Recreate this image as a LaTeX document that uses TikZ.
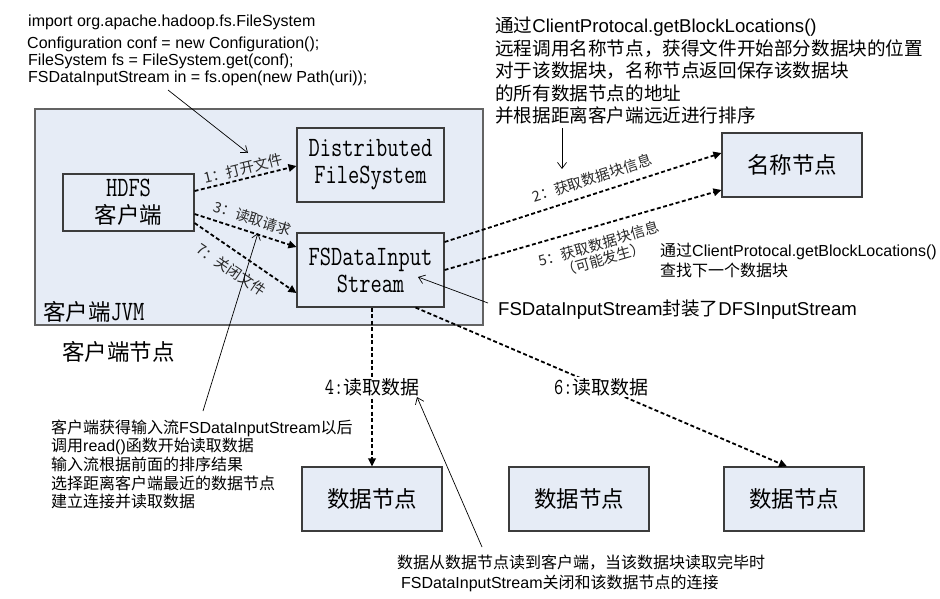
\documentclass[tikz,border=0pt]{standalone}
\usepackage{fontspec}
\usepackage{graphicx}
\setmainfont{Liberation Sans}
\newfontfamily\cjk{Noto Sans CJK SC}
\usetikzlibrary{arrows.meta,calc}
\definecolor{boxfill}{RGB}{230,236,246}
\definecolor{boxline}{RGB}{60,60,60}
\definecolor{lbltext}{RGB}{40,40,40}
\newcommand{\zh}[1]{{\cjk #1}}
\newcommand{\mtx}[2]{\scalebox{0.78}[1]{\fontsize{#1}{#1}\ttfamily #2}}
\begin{document}
\begin{tikzpicture}[x=1pt,y=-1pt,
  box/.style={draw=boxline, line width=1.1pt, fill=boxfill, inner sep=0pt, align=center,
    font=\fontsize{22.5}{27}\selectfont},
  flow/.style={line width=1.8pt, dash pattern=on 4pt off 2.5pt, -{Triangle[length=8pt,width=7.5pt]}},
  note/.style={line width=0.7pt, -{Straight Barb[length=6pt,width=9pt]}},
  lbl/.style={font=\fontsize{14.5}{16}\selectfont\cjk, text=lbltext, inner sep=1pt},
  bigl/.style={font=\fontsize{19}{22}\selectfont, fill=white, inner sep=1pt},
  txt/.style={anchor=base west, inner sep=0pt},
  codef/.style={txt, font=\fontsize{16}{17}\selectfont},
  zhf/.style={txt, font=\fontsize{18.6}{22}\selectfont},
  smf/.style={txt, font=\fontsize{16}{18}\selectfont},
  ttl/.style={txt, font=\fontsize{22.5}{27}\selectfont}]
\useasboundingbox (0,0) rectangle (940,598);
\fill[white] (0,0) rectangle (940,598);

% client JVM frame
\node[box, draw=boxline!80, minimum width=448pt, minimum height=216pt] (jvm) at (259,217) {};
\node[ttl] (jvmlbl) at (43,320) {\zh{客户端}\mtx{28}{JVM}};
\node[ttl] (clientnode) at (62,360) {\zh{客户端节点}};

% boxes
\node[box, minimum width=131pt, minimum height=57pt] (client) at (128.5,202.5) {\mtx{28}{HDFS}\\\zh{客户端}};
\node[box, minimum width=147pt, minimum height=74pt] (dfs) at (370.5,165) {\mtx{28}{Distributed}\\\mtx{28}{FileSystem}};
\node[box, minimum width=147pt, minimum height=74pt] (fsdis) at (370.5,270) {\mtx{28}{FSDataInput}\\\mtx{28}{Stream}};
\node[box, minimum width=140pt, minimum height=64pt] (nn) at (792,165) {\zh{名称节点}};
\node[box, minimum width=140pt, minimum height=64pt] (dn1) at (372,499) {\zh{数据节点}};
\node[box, minimum width=140pt, minimum height=64pt] (dn2) at (579,499) {\zh{数据节点}};
\node[box, minimum width=140pt, minimum height=64pt] (dn3) at (794,499) {\zh{数据节点}};

% flows
\draw[flow] ([yshift=11.5pt]client.east) -- node[lbl, sloped, above=1.5pt, pos=0.5] (l1) {1：打开文件} ([yshift=-1pt]dfs.west);
\draw[flow] ([yshift=-11.5pt]client.east) -- node[lbl, sloped, above=5pt, pos=0.53] (l3) {3：读取请求} ([yshift=23pt]fsdis.west);
\draw[flow] ([yshift=-20.5pt]client.east) -- node[lbl, sloped, below=9pt, pos=0.46] (l7) {7：关闭文件} ([yshift=-23pt]fsdis.west);
\draw[flow] ([yshift=28pt]fsdis.east) -- node[lbl, sloped, above=7pt, pos=0.55] (l2) {2：获取数据块信息} ([yshift=12pt]nn.west);
\draw[flow] (fsdis.east) -- node[lbl, sloped, below=9pt, pos=0.54, align=center] (l5) {5：获取数据块信息\\（可能发生）} ([yshift=-25pt]nn.west);
\draw[flow] (fsdis.south -| dn1.north) -- node[bigl] (l4) {\mtx{23}{4:}\zh{读取数据}} (dn1.north);
\draw[flow] ([xshift=-29pt]fsdis.south east) -- node[bigl] (l6) {\mtx{23}{6:}\zh{读取数据}} ([xshift=-7pt]dn3.north);

% code text
\node[codef] (code1) at (28,26) {import org.apache.hadoop.fs.FileSystem};
\node[codef] (code2) at (27,48) {Configuration conf = new Configuration();};
\node[codef] (code3) at (28,65) {FileSystem fs = FileSystem.get(conf);};
\node[codef] (code4) at (28,82) {FSDataInputStream in = fs.open(new Path(uri));};

% top right text
\node[zhf] (t1) at (495,32.5) {\zh{通过}ClientProtocal.getBlockLocations()};
\node[zhf] (t2) at (495,55.1) {\zh{远程调用名称节点，获得文件开始部分数据块的位置}};
\node[zhf] (t3) at (495,77.7) {\zh{对于该数据块，名称节点返回保存该数据块}};
\node[zhf] (t4) at (495,100.3) {\zh{的所有数据节点的地址}};
\node[zhf] (t5) at (495,122.9) {\zh{并根据距离客户端远近进行排序}};

% lower right
\node[smf] (r1) at (660,256) {\zh{通过}ClientProtocal.getBlockLocations()};
\node[smf] (r2) at (660,276) {\zh{查找下一个数据块}};
\node[zhf] (wrap) at (498,315) {FSDataInputStream\zh{封装了}DFSInputStream};

% bottom left
\node[smf] (b1) at (51,433) {\zh{客户端获得输入流}FSDataInputStream\zh{以后}};
\node[smf] (b2) at (51,451.7) {\zh{调用}read()\zh{函数开始读取数据}};
\node[smf] (b3) at (51,470.4) {\zh{输入流根据前面的排序结果}};
\node[smf] (b4) at (51,489.1) {\zh{选择距离客户端最近的数据节点}};
\node[smf] (b5) at (51,507.8) {\zh{建立连接并读取数据}};

% bottom
\node[smf] (c1) at (397,568) {\zh{数据从数据节点读到客户端，当该数据块读取完毕时}};
\node[smf] (c2) at (401,588) {FSDataInputStream\zh{关闭和该数据节点的连接}};

% note arrows
\coordinate (n1s) at (168,90);  \coordinate (n1e) at (248,153);
\coordinate (n2s) at (562,128); \coordinate (n2e) at (562,169);
\coordinate (n3s) at (488,303); \coordinate (n3e) at (418,277);
\coordinate (n4s) at (203,411); \coordinate (n4e) at (258,233);
\coordinate (n5s) at (482,547); \coordinate (n5e) at (417,397);
\draw[note] (n1s) -- (n1e);
\draw[note] (n2s) -- (n2e);
\draw[note] (n3s) -- (n3e);
\draw[note] (n4s) -- (n4e);
\draw[note] (n5s) -- (n5e);
\end{tikzpicture}
\end{document}
